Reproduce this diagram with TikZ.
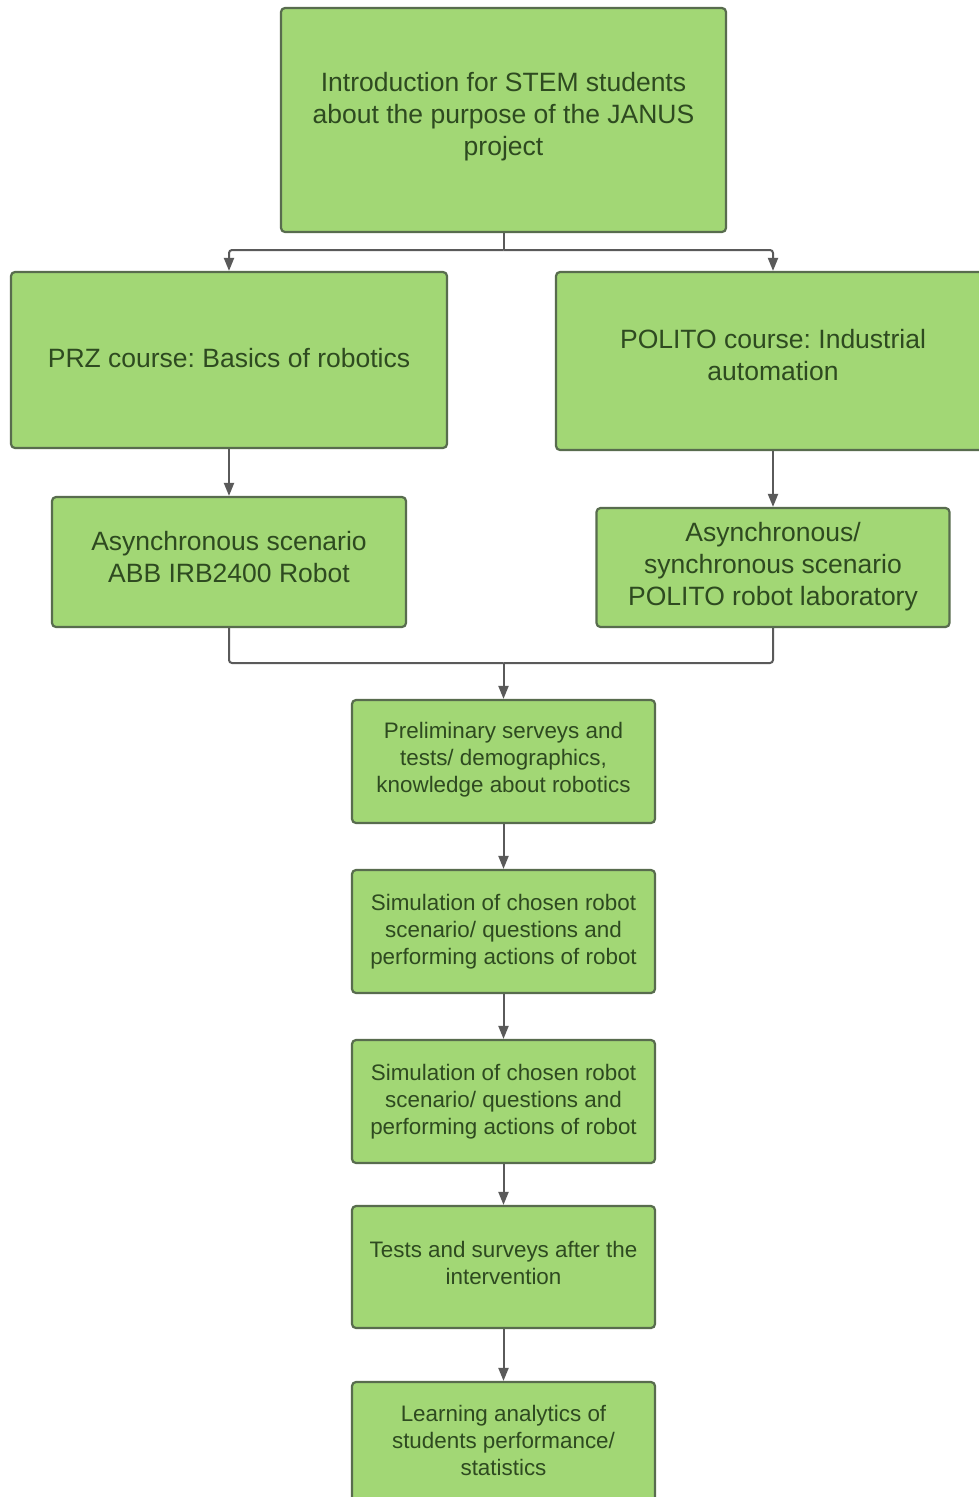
\documentclass[tikz,border=0pt]{standalone}
\usepackage{fontspec}
\setmainfont{Liberation Sans}
\frenchspacing
\usetikzlibrary{arrows.meta}
\definecolor{boxfill}{RGB}{162,215,117}
\definecolor{boxline}{RGB}{88,108,78}
\definecolor{boxtext}{RGB}{46,74,32}
\definecolor{linkgray}{RGB}{90,90,90}
\begin{document}
\begin{tikzpicture}[x=1pt,y=-1pt,
  box/.style={draw=boxline, line width=2.2pt, fill=boxfill, rounded corners=4pt, inner sep=0pt},
  lbl/.style={text=boxtext, align=center, inner sep=0pt},
  bigtext/.style={lbl, font=\fontsize{26.5}{32}\selectfont},
  smalltext/.style={lbl, font=\fontsize{22.4}{27}\selectfont},
  link/.style={draw=linkgray, line width=2pt, rounded corners=3pt},
  arr/.style={link, -{Triangle[length=13pt,width=10pt]}}]
\useasboundingbox (0,0) rectangle (979,1497);
\fill[white] (0,0) rectangle (979,1497);

% boxes
\node[box, minimum width=445pt, minimum height=224pt] (intro) at (503.5,120) {};
\node[box, minimum width=436pt, minimum height=176pt] (prz) at (229,360) {};
\node[box, minimum width=434pt, minimum height=178pt] (polito) at (773,361) {};
\node[box, minimum width=354pt, minimum height=130pt] (abb) at (229,562) {};
\node[box, minimum width=353pt, minimum height=119pt] (lab) at (773,567.5) {};
\node[box, minimum width=303pt, minimum height=123pt] (pre) at (503.5,761.5) {};
\node[box, minimum width=303pt, minimum height=123pt] (sima) at (503.5,931.5) {};
\node[box, minimum width=303pt, minimum height=123pt] (simb) at (503.5,1101.5) {};
\node[box, minimum width=303pt, minimum height=122pt] (post) at (503.5,1267) {};
\node[box, minimum width=303pt, minimum height=150pt] (learn) at (503.5,1457) {};

% box texts (yshift is upward)
\node[bigtext] (intro-t) at ([yshift=3pt]intro.center)
  {Introduction for STEM students\\about the purpose of the JANUS\\project};
\node[bigtext] (prz-t) at ([yshift=2pt]prz.center) {PRZ course: Basics of robotics};
\node[bigtext] (polito-t) at ([yshift=6pt]polito.center) {POLITO course: Industrial\\automation};
\node[bigtext] (abb-t) at ([yshift=5pt]abb.center) {Asynchronous scenario\\ABB IRB2400 Robot};
\node[bigtext] (lab-t) at ([yshift=1pt]lab.center)
  {Asynchronous/\\synchronous scenario\\POLITO robot laboratory};
\node[smalltext] (pre-t) at ([yshift=2pt]pre.center)
  {Preliminary serveys and\\tests/ demographics,\\knowledge about robotics};
\node[smalltext] (sima-t) at (sima.center)
  {Simulation of chosen robot\\scenario/ questions and\\performing actions of robot};
\node[smalltext] (simb-t) at (simb.center)
  {Simulation of chosen robot\\scenario/ questions and\\performing actions of robot};
\node[smalltext] (post-t) at ([yshift=4.5pt]post.center) {Tests and surveys after the\\intervention};
\node[smalltext] (learn-t) at ([yshift=17pt]learn.center)
  {Learning analytics of\\students performance/\\statistics};

% branch and merge points
\coordinate (split) at (503.5,250);
\coordinate (merge) at (503.5,663);

% connectors
\draw[link] (intro.south) -- (split);
\draw[arr] (split) -| (prz.north);
\draw[arr] (split) -| (polito.north);
\draw[arr] (prz.south) -- (abb.north);
\draw[arr] (polito.south) -- (lab.north);
\draw[link] (abb.south) |- (merge);
\draw[link] (lab.south) |- (merge);
\draw[arr] (merge) -- (pre.north);
\draw[arr] (pre.south) -- (sima.north);
\draw[arr] (sima.south) -- (simb.north);
\draw[arr] (simb.south) -- (post.north);
\draw[arr] (post.south) -- (learn.north);
\end{tikzpicture}
\end{document}
